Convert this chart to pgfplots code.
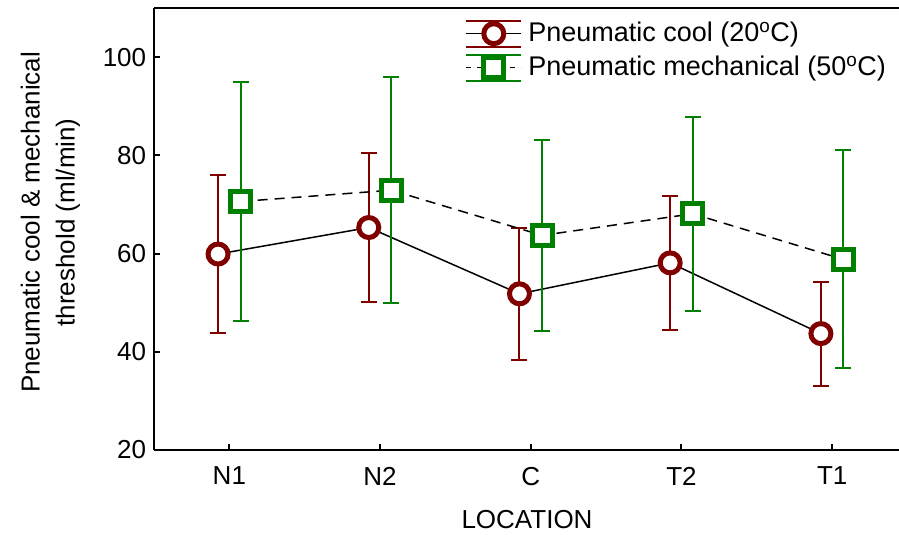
\documentclass[border=0pt]{standalone}
\usepackage{fontspec}
\setmainfont{Liberation Sans}
\usepackage{pgfplots}
\usepackage{pgfplotstable}
\pgfplotsset{compat=1.18}
\definecolor{cred}{RGB}{128,0,0}
\definecolor{cgreen}{RGB}{0,128,0}
\pgfplotstableread{
x y e
-0.075 59.9 16.1
0.925 65.3 15.1
1.925 51.8 13.4
2.925 58.1 13.7
3.925 43.7 10.6
}\cool
\pgfplotstableread{
x y e
0.075 70.6 24.3
1.075 72.9 23.0
2.075 63.7 19.4
3.075 68.1 19.8
4.075 58.8 22.2
}\mech
\begin{document}
\fontsize{26}{30}\selectfont
\begin{tikzpicture}
\begin{axis}[
  at={(154pt,85pt)}, anchor=south west,
  scale only axis, width=746pt, height=442pt,
  xmin=-0.5, xmax=4.45, ymin=20, ymax=110,
  axis y line*=left,
  y axis line style={-},
  axis line style={line width=2.5pt},
  xtick={0,1,2,3,4}, xticklabels={N1,N2,C,T2,T1},
  ytick={20,40,60,80,100},
  xtick pos=bottom, ytick pos=left,
  tick align=inside,
  major tick length=6pt,
  tick style={black, line width=2pt},
  /pgf/number format/assume math mode=true,
  tick label style={font=\fontsize{26}{30}\selectfont},
  x tick label style={yshift=-8pt},
  y tick label style={xshift=1pt},
  xlabel={LOCATION},
  xlabel style={font=\fontsize{26}{30}\selectfont, at={(axis description cs:0.5,-0.136)}, anchor=north, inner sep=0pt},
  ylabel={Pneumatic cool \& mechanical\\threshold (ml/min)},
  ylabel style={font=\fontsize{26}{35}\selectfont, align=center, at={(axis description cs:-0.099,0.515)}, anchor=south, inner sep=0pt},
  legend style={draw=none, fill=none, at={(rel axis cs:0.417,0.974)}, anchor=north west, inner sep=0pt, row sep=6pt, font=\fontsize{27}{30}\selectfont, /tikz/every odd column/.append style={column sep=4pt}},
  legend cell align=left,
]
\addplot[black, line width=1.5pt, mark=*, mark size=10pt,
  mark options={draw=cred, fill=white, line width=5pt, solid},
  legend image code/.code={
    \draw[solid, cred, line width=2pt] (0pt,13pt) -- (55pt,13pt);
    \draw[solid, cred, line width=2pt] (0pt,-13pt) -- (55pt,-13pt);
    \draw[solid, black, line width=1.5pt] (0pt,0pt) -- (55pt,0pt);
    \draw[solid, cred, line width=5pt, fill=white] (27.5pt,0pt) circle (10pt);
  },
  error bars/.cd, y dir=both, y explicit,
  error bar style={cred, line width=2pt, solid},
  error mark options={cred, rotate=90, mark size=8pt, line width=2pt, solid},
  ] table[x=x, y=y, y error=e] {\cool};
\addlegendentry{Pneumatic cool (20\textsuperscript{o}C)}
\addplot[black, line width=1.5pt, dash pattern=on 10pt off 7pt, mark=square*, mark size=10pt,
  mark options={draw=cgreen, fill=white, line width=5pt, solid},
  legend image code/.code={
    \draw[solid, cgreen, line width=2pt] (0pt,13pt) -- (55pt,13pt);
    \draw[solid, cgreen, line width=2pt] (0pt,-13pt) -- (55pt,-13pt);
    \draw[black, line width=1.5pt, dash pattern=on 5pt off 6pt] (0pt,0pt) -- (55pt,0pt);
    \draw[solid, cgreen, line width=5pt, fill=white] (17.5pt,-10pt) rectangle (37.5pt,10pt);
  },
  error bars/.cd, y dir=both, y explicit,
  error bar style={cgreen, line width=2pt, solid},
  error mark options={cgreen, rotate=90, mark size=8pt, line width=2pt, solid},
  ] table[x=x, y=y, y error=e] {\mech};
\addlegendentry{Pneumatic mechanical (50\textsuperscript{o}C)}
\end{axis}
\pgfresetboundingbox
\path[use as bounding box] (0,0) rectangle (899pt,535pt);
\end{tikzpicture}
\end{document}
